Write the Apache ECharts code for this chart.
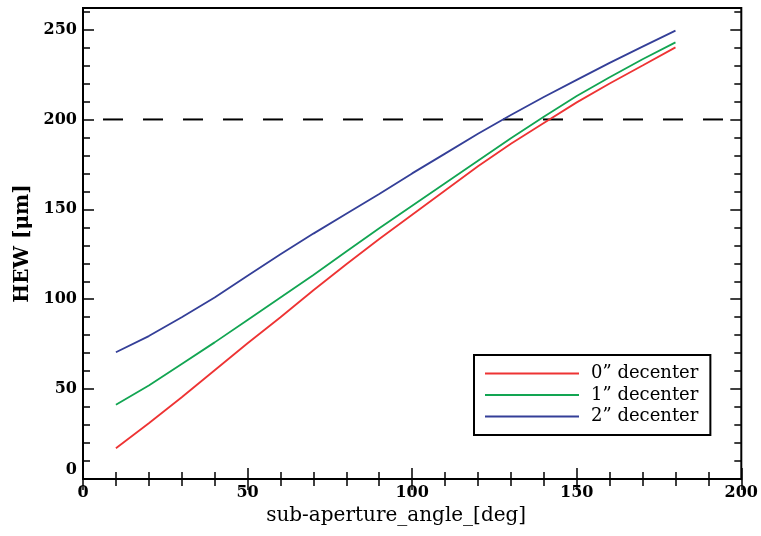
<!DOCTYPE html>
<html>
<head>
<meta charset="utf-8">
<script src="https://cdn.jsdelivr.net/npm/echarts@6/dist/echarts.min.js"></script>
<style>html,body{margin:0;padding:0;background:#fff}#c{width:761px;height:536px}</style>
</head>
<body>
<div id="c"></div>
<script>
const angles = [10,20,30,40,50,60,70,80,90,100,110,120,130,140,150,160,170,180];
const dec0 = [17.1,31,45.5,60.5,75.5,90,105,119.5,133.5,147,160.5,174,186.5,198,209.5,220,230,240.1];
const dec1 = [41.3,52,64,76,88.5,101,113.5,126.5,139.5,152,164.5,177,189.5,201.5,213,223.5,233.5,242.9];
const dec2 = [70.5,79.5,90,101,113,125,136.5,147.5,158.5,170,181,192,202.5,212.5,222,231.5,240.5,249.4];
const seriesNames = ['0\u201D decenter','1\u201D decenter','2\u201D decenter'];
const seriesColors = ['#ee3333','#12a552','#343f98'];
const refX = [0,200];
const refY = 200;
const xName = 'sub-aperture_angle_[deg]';
const yName = 'HEW [\u03BCm]';

const serif = 'DejaVu Serif';
const chart = echarts.init(document.getElementById('c'), null, {renderer:'canvas'});
const pair = (xs, ys) => xs.map((x,i)=>[x, ys[i]]);
const tickLblStyle = {fontFamily: serif, fontWeight: 'bold', fontSize: 16, color: '#000'};

const yBase = {type:'value', min:0, max:262, axisLine:{show:false}, splitLine:{show:false}};
const xBase = {type:'value', min:0, max:200, interval:50, axisLine:{show:false}, splitLine:{show:false}};

chart.setOption({
  animation:false,
  backgroundColor:'#fff',
  grid:{left:83, right:17, top:8, bottom:57, show:true, borderColor:'#000', borderWidth:2, backgroundColor:'transparent'},
  xAxis:[
    Object.assign({}, xBase, {position:'bottom', name:xName, nameLocation:'middle', nameGap:22,
      nameTextStyle:{fontFamily:serif, fontSize:20, color:'#000', padding:[0,32,0,0]},
      axisTick:{inside:true, length:11, lineStyle:{color:'#000', width:1.5}},
      minorTick:{show:true, splitNumber:5, length:7, lineStyle:{color:'#000', width:1.5}},
      axisLabel:Object.assign({margin:6}, tickLblStyle)}),
    Object.assign({}, xBase, {position:'top',
      axisTick:{inside:true, length:11, lineStyle:{color:'#000', width:1.5}},
      minorTick:{show:true, splitNumber:5, length:7, lineStyle:{color:'#000', width:1.5}},
      axisLabel:{show:false}})
  ],
  yAxis:[
    Object.assign({}, yBase, {position:'left', interval:50, name:yName, nameLocation:'middle', nameGap:44,
      nameTextStyle:{fontFamily:serif, fontWeight:'bold', fontSize:20, color:'#000'},
      axisTick:{inside:true, length:11, lineStyle:{color:'#000', width:1.5}},
      axisLabel:Object.assign({margin:6, showMaxLabel:false,
        formatter: v => v === 0 ? '{z|0}' : String(v),
        rich:{z:Object.assign({padding:[0,0,18,0]}, tickLblStyle)}}, tickLblStyle)}),
    Object.assign({}, yBase, {position:'left', interval:10,
      axisTick:{inside:true, length:7, lineStyle:{color:'#000', width:1.5}}, axisLabel:{show:false}}),
    Object.assign({}, yBase, {position:'right', interval:50,
      axisTick:{inside:true, length:11, lineStyle:{color:'#000', width:1.5}}, axisLabel:{show:false}}),
    Object.assign({}, yBase, {position:'right', interval:10,
      axisTick:{inside:true, length:7, lineStyle:{color:'#000', width:1.5}}, axisLabel:{show:false}})
  ],
  legend:{
    data:seriesNames, orient:'vertical', left:474, top:355,
    backgroundColor:'#fff', borderColor:'#000', borderWidth:2,
    padding:[8,12,8,11], icon:'rect', itemWidth:94, itemHeight:1.8, itemGap:0.5,
    textStyle:{fontFamily:serif, fontSize:18, color:'#000', lineHeight:21, padding:[0,0,0,7]}
  },
  series:[
    {name:'ref', type:'line', data:pair(refX, refX.map(()=>refY)), symbol:'none', silent:true,
      lineStyle:{color:'#000', width:2, type:[20,20], dashOffset:20}, z:1},
    ...seriesNames.map((n,i)=>({
      name:n, type:'line', symbol:'none', xAxisIndex:0, yAxisIndex:0,
      data:pair(angles, [dec0,dec1,dec2][i]),
      itemStyle:{color:seriesColors[i]},
      lineStyle:{color:seriesColors[i], width:1.8}, z:2
    }))
  ]
});
</script>
</body>
</html>
